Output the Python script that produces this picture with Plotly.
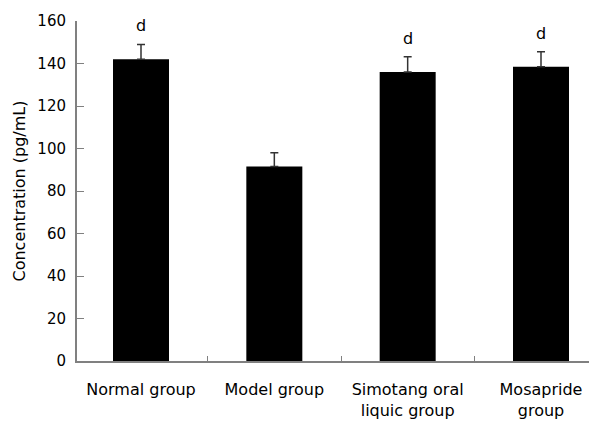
import plotly.graph_objects as go

categories = ["Normal group", "Model group", "Simotang oral<br>liquic group", "Mosapride<br>group"]
means = [142, 91.5, 136, 138.5]
errors = [7, 6.5, 7.2, 7]
marks = ["d", "", "d", "d"]
y_ticks = [0, 20, 40, 60, 80, 100, 120, 140, 160]

FONT = "DejaVu Sans"

fig = go.Figure()
fig.add_trace(go.Bar(
    x=list(range(len(categories))), y=means,
    width=0.42,
    marker=dict(color="black", line=dict(width=0)),
    error_y=dict(type="data", array=errors, symmetric=False, arrayminus=[0]*len(errors),
                 color="#333333", thickness=1.5, width=4),
))

for i, (m, e, t) in enumerate(zip(means, errors, marks)):
    if t:
        fig.add_annotation(x=i, y=m + e, text=t, showarrow=False, yanchor="bottom", yshift=7,
                           font=dict(family=FONT, size=16, color="black"))

# page body has an 8px default margin, so the figure is sized to fit the window
fig.update_layout(
    width=589, height=417,
    margin=dict(l=69, r=0, t=13, b=64),
    paper_bgcolor="white", plot_bgcolor="white",
    showlegend=False,
    font=dict(family=FONT, size=15, color="black"),
    xaxis=dict(
        tickmode="array", tickvals=list(range(len(categories))), ticktext=categories,
        range=[-0.48, 3.42], automargin=False,
        showline=True, linecolor="#808080", linewidth=2,
        ticks="", showgrid=False, zeroline=False,
        tickfont=dict(family=FONT, size=16), ticklabelstandoff=13,
    ),
    xaxis2=dict(
        overlaying="x", matches="x", tickmode="array", automargin=False,
        tickvals=[i + 0.5 for i in range(len(categories) - 1)],
        ticks="inside", ticklen=5, tickcolor="#808080", tickwidth=1,
        showticklabels=False, showgrid=False, zeroline=False, showline=False,
    ),
    yaxis=dict(
        range=[0, 160], tickmode="array", tickvals=y_ticks, automargin=False,
        showline=True, linecolor="#808080", linewidth=2,
        ticks="inside", ticklen=7, tickcolor="#808080", tickwidth=1,
        showgrid=False, zeroline=False,
        tickfont=dict(family=FONT, size=15), ticklabelstandoff=6,
        title=dict(text="Concentration (pg/mL)", font=dict(family=FONT, size=16), standoff=8),
    ),
)
fig.add_trace(go.Scatter(x=[0], y=[0], xaxis="x2", mode="markers", marker=dict(opacity=0), hoverinfo="skip"))

fig.write_html("out.html")
